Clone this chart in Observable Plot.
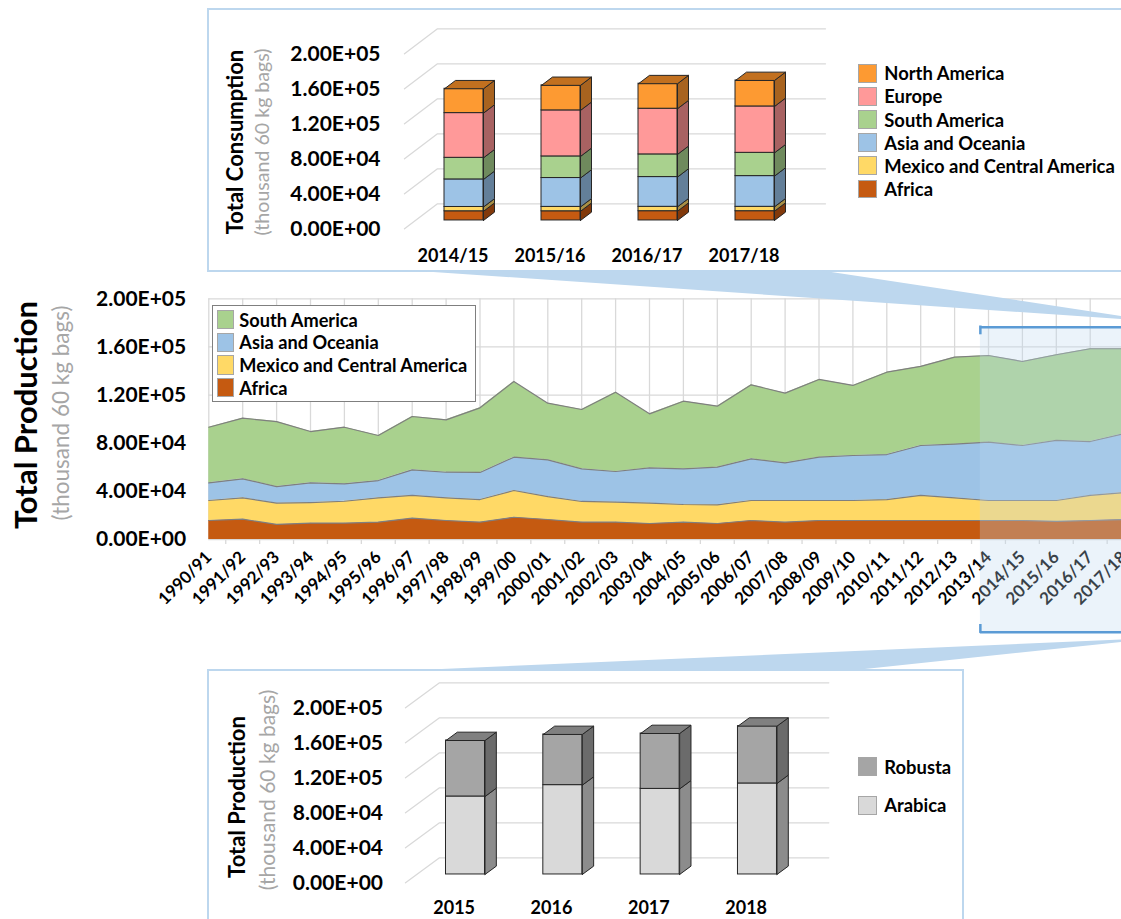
<!DOCTYPE html>
<html>
<head>
<meta charset="utf-8">
<script src="https://cdn.jsdelivr.net/npm/d3@7"></script>
<script src="https://cdn.jsdelivr.net/npm/@observablehq/plot@0.6"></script>
<style>
  body { margin: 0; background: #fff; }
  #page { position: relative; width: 1121px; height: 919px; overflow: hidden; font-family: Lato, "Open Sans", sans-serif; }
  .abs { position: absolute; }
  .panel { position: absolute; border: 2px solid #bdd7ee; box-sizing: border-box; background: #fff; }
  .rot { position: absolute; transform: translate(-50%, -50%) rotate(-90deg); white-space: nowrap; line-height: 1; }
  .title { font-weight: bold; color: #000; }
  .sub { color: #a6a6a6; }
  .sw { position: absolute; box-sizing: border-box; border: 1px solid #a6a6a6; }
  .lt { position: absolute; font-weight: bold; color: #000; white-space: nowrap; line-height: 1; transform: translateY(-50%); }
</style>
</head>
<body>
<div id="page">
  <div class="panel" style="left:207px;top:8px;width:960px;height:264px"></div>
  <div class="panel" style="left:207px;top:669px;width:757px;height:300px"></div>
  <div id="top" class="abs" style="left:0;top:0"></div>
  <div id="mid" class="abs" style="left:0;top:280px"></div>
  <div id="bot" class="abs" style="left:0;top:640px"></div>
  <div id="texts"></div>
  <svg class="abs" width="1121" height="919" style="left:0;top:0;pointer-events:none">
    <polygon points="404,270 818,270 1121,316 1121,319" fill="#bdd7ee"></polygon>
    <polygon points="430,669.5 1121,639.5 1121,642 860,669.5" fill="#bdd7ee"></polygon>
  </svg>
</div>
<script>
// ---------- Data: production by region (thousand 60 kg bags) ----------
const seasons = ["1990/91","1991/92","1992/93","1993/94","1994/95","1995/96","1996/97","1997/98","1998/99","1999/00",
  "2000/01","2001/02","2002/03","2003/04","2004/05","2005/06","2006/07","2007/08","2008/09","2009/10",
  "2010/11","2011/12","2012/13","2013/14","2014/15","2015/16","2016/17","2017/18"];
const africaProd   = [15800,16900,12500,13600,13600,14400,17700,15800,14400,18500,16600,14400,14400,13300,14400,13300,15800,14400,15800,15800,15800,15800,15800,15800,15800,15000,15800,16600];
const mexicoProd   = [16600,17700,17700,17100,18200,20200,18900,18800,18800,22200,19100,17200,16600,16900,14700,15500,16600,18000,16600,16600,17400,20800,18800,16600,16600,17400,20800,22400];
const asiaProd     = [14700,15800,13800,16400,14500,14400,21300,21300,22500,27700,30500,27100,25500,29300,29600,31300,34600,31300,36000,37400,37400,41500,44600,48500,45700,49900,44800,49000];
const southAmProd  = [46200,50400,54000,42600,47000,37400,44300,43500,53700,62900,47100,49300,65900,44900,56200,50700,61500,57900,64600,58200,68400,65700,72300,72000,69800,71200,77100,70500];
const prodRegions  = ["Africa","Mexico and Central America","Asia and Oceania","South America"];
const prodColors   = ["#c55a11","#ffd966","#9dc3e6","#a9d18e"];

// ---------- Data: consumption by region ----------
const consSeasons  = ["2014/15","2015/16","2016/17","2017/18"];
const consAfrica   = [10500,10500,10600,10600];
const consMexico   = [4900,5000,5000,5000];
const consAsia     = [31500,33000,34000,35100];
const consSouthAm  = [24700,24700,25900,26600];
const consEurope   = [51100,52600,52200,53000];
const consNorthAm  = [27800,28600,28600,29700];
const consRegions  = ["Africa","Mexico and Central America","Asia and Oceania","South America","Europe","North America"];
const consFront    = ["#c55a11","#ffd966","#9dc3e6","#a9d18e","#ff9999","#fd9a32"];
const consSide     = ["#82390b","#a88f45","#637f99","#6f8a5d","#a86262","#a8631f"];
const consTopFace  = "#c2701f";

// ---------- Data: production by species ----------
const prodYears    = ["2015","2016","2017","2018"];
const arabica      = [89100,102100,97800,104000];
const robusta      = [64000,57900,63300,65500];
const speciesNames = ["Arabica","Robusta"];
const speciesFront = ["#d9d9d9","#a5a5a5"];
const speciesSide  = ["#8c8c8c","#6b6b6b"];
const speciesTop   = "#808080";

const yTicks = [0,40000,80000,120000,160000,200000];
const fmtE = v => { const [m, e] = v.toExponential(2).split("e"); return m + "E" + e[0] + e.slice(1).padStart(2, "0"); };

const baseStyle = { background: "transparent", fontFamily: "Lato, 'Open Sans', sans-serif", fontWeight: "bold",
  overflow: "visible", maxWidth: "none", color: "#000" };

function setFont(svg, axis, size) {
  d3.select(svg).selectAll(`[aria-label^="${axis}-axis"] text`).style("font-size", size + "px").style("font-weight", "bold");
}

// ---------- 3D stacked column chart ----------
function chart3d(o) {
  const plotW = o.width - o.marginLeft - o.marginRight;
  const plotH = o.height - o.marginTop - o.marginBottom;
  const n = o.cats.length;
  const slot = plotW / n;
  const ux = o.depthPx[0] / slot;
  const uy = o.depthPx[1] * 200000 / plotH;
  const bw = o.barPx / slot;
  const d0 = 1 / 3, d1 = 2 / 3;
  const marks = [];
  const grid = [];
  yTicks.forEach(v => grid.push({t: v, x: -0.5, y: v}, {t: v, x: -0.5 + ux, y: v + uy}, {t: v, x: n - 0.5 + ux, y: v + uy}));
  marks.push(Plot.line(grid, {x: "x", y: "y", z: "t", stroke: "#d9d9d9", strokeWidth: 1.3}));
  const cum = o.cats.map(() => 0);
  o.series.forEach((s, si) => {
    const fronts = [], sides = [], tops = [];
    o.cats.forEach((c, ci) => {
      const v = o.values[si][ci];
      const b = cum[ci]; cum[ci] += v;
      const cx = ci + d0 * ux, oy = d0 * uy;
      const x1 = cx - bw / 2, x2 = cx + bw / 2, y1 = b + oy, y2 = b + v + oy;
      const ddx = (d1 - d0) * ux, ddy = (d1 - d0) * uy;
      fronts.push({x1, x2, y1, y2});
      [[x2, y1], [x2 + ddx, y1 + ddy], [x2 + ddx, y2 + ddy], [x2, y2], [x2, y1]].forEach(([x, y]) => sides.push({id: ci, x, y}));
      if (si === o.series.length - 1)
        [[x1, y2], [x2, y2], [x2 + ddx, y2 + ddy], [x1 + ddx, y2 + ddy], [x1, y2]].forEach(([x, y]) => tops.push({id: ci, x, y}));
    });
    marks.push(Plot.line(sides, {x: "x", y: "y", z: "id", fill: o.side[si], stroke: "#262626", strokeWidth: 1, strokeLinejoin: "round"}));
    marks.push(Plot.rect(fronts, {x1: "x1", x2: "x2", y1: "y1", y2: "y2", fill: o.front[si], stroke: "#262626", strokeWidth: 1}));
    if (tops.length) marks.push(Plot.line(tops, {x: "x", y: "y", z: "id", fill: o.topFace, stroke: "#262626", strokeWidth: 1, strokeLinejoin: "round"}));
  });
  const svg = Plot.plot({
    width: o.width, height: o.height,
    marginLeft: o.marginLeft, marginRight: o.marginRight, marginTop: o.marginTop, marginBottom: o.marginBottom,
    x: {type: "linear", domain: [-0.5, n - 0.5], ticks: d3.range(n), tickFormat: i => o.cats[i], tickSize: 0, tickPadding: o.padX, label: null},
    y: {domain: [0, 200000], ticks: yTicks, tickFormat: fmtE, tickSize: 0, tickPadding: o.padY, label: null},
    style: {...baseStyle, fontSize: "18px"},
    marks
  });
  setFont(svg, "x", 18);
  setFont(svg, "y", 21);
  return svg;
}

document.getElementById("top").append(chart3d({
  cats: consSeasons, series: consRegions,
  values: [consAfrica, consMexico, consAsia, consSouthAm, consEurope, consNorthAm],
  front: consFront, side: consSide, topFace: consTopFace,
  width: 1121, height: 271, marginLeft: 404, marginRight: 329, marginTop: 53.3, marginBottom: 42.7,
  depthPx: [33, 25], barPx: 39, padX: 20, padY: 24
}));

document.getElementById("bot").append(chart3d({
  cats: prodYears, series: speciesNames,
  values: [arabica, robusta],
  front: speciesFront, side: speciesSide, topFace: speciesTop,
  width: 1121, height: 279, marginLeft: 405, marginRight: 326.7, marginTop: 67.3, marginBottom: 36.7,
  depthPx: [34, 25], barPx: 39, padX: 18.5, padY: 22.5
}));

// ---------- Middle stacked area chart ----------
const prodSeries = [africaProd, mexicoProd, asiaProd, southAmProd];
const prodRows = seasons.flatMap((s, i) => prodRegions.map((r, k) => ({i, season: s, region: r, value: prodSeries[k][i]})));
const highlight = [{x1: 22.76, x2: 28, y1: 0, y2: 200000}];
const midSvg = Plot.plot({
  width: 1150, height: 360,
  marginLeft: 208.3, marginRight: 26.4, marginTop: 18.3, marginBottom: 101,
  x: {type: "linear", domain: [0, seasons.length - 1], ticks: d3.range(seasons.length), tickFormat: i => seasons[i],
      tickRotate: -45, tickSize: 0, tickPadding: 15, label: null},
  y: {domain: [0, 200000], ticks: yTicks, tickFormat: fmtE, tickSize: 0, tickPadding: 22.6, label: null},
  color: {domain: prodRegions, range: prodColors},
  style: {...baseStyle, fontSize: "17px"},
  marks: [
    Plot.ruleY(yTicks, {stroke: "#d9d9d9", strokeWidth: 1.3}),
    Plot.ruleX(d3.range(seasons.length), {stroke: "#d9d9d9", strokeWidth: 1.3}),
    Plot.ruleX(d3.range(seasons.length - 1).map(i => i + 0.5), {y1: 0, y2: 0, insetBottom: -5, stroke: "#d9d9d9", strokeWidth: 1.3}),
    Plot.areaY(prodRows, Plot.stackY({x: "i", y: "value", z: "region", fill: "region", order: prodRegions})),
    Plot.lineY(prodRows, Plot.stackY2({x: "i", y: "value", z: "region", order: prodRegions, stroke: "#7f7f7f", strokeWidth: 1.2})),
    Plot.rect(highlight, {x1: "x1", x2: "x2", y1: "y1", y2: "y2", insetTop: 28.4, insetBottom: -92.7, fill: "#bdd7ee", fillOpacity: 0.3}),
    Plot.ruleY(highlight, {y: "y2", x1: "x1", x2: "x2", dy: 28.4, stroke: "#5b9bd5", strokeWidth: 2.5}),
    Plot.ruleY(highlight, {y: "y1", x1: "x1", x2: "x2", dy: 92.7, stroke: "#5b9bd5", strokeWidth: 2.5}),
    Plot.ruleX(highlight, {x: "x1", y1: "y2", y2: "y2", insetTop: 27.2, insetBottom: -36, stroke: "#5b9bd5", strokeWidth: 2.5}),
    Plot.ruleX(highlight, {x: "x1", y1: "y1", y2: "y1", insetTop: 85, insetBottom: -93.9, stroke: "#5b9bd5", strokeWidth: 2.5})
  ]
});
setFont(midSvg, "x", 17);
setFont(midSvg, "y", 21);
document.getElementById("mid").append(midSvg);

// ---------- Titles and legends (HTML) ----------
const texts = document.getElementById("texts");
function rotText(cls, txt, cx, cy, size) {
  const d = document.createElement("div");
  d.className = "rot " + cls; d.textContent = txt;
  d.style.left = cx + "px"; d.style.top = cy + "px"; d.style.fontSize = size + "px";
  texts.append(d);
}
rotText("title", "Total Consumption", 235, 142, 22);
rotText("sub", "(thousand 60 kg bags)", 262, 142, 19.6);
rotText("title", "Total Production", 24.6, 415, 31);
rotText("sub", "(thousand 60 kg bags)", 61, 413, 22.5);
rotText("title", "Total Production", 237, 797, 22);
rotText("sub", "(thousand 60 kg bags)", 265.5, 790, 21);

function legend(names, colors, swX, top0, pitch, swW, swH, txX, size) {
  names.forEach((nm, k) => {
    const sw = document.createElement("div");
    sw.className = "sw";
    Object.assign(sw.style, {left: swX + "px", top: (top0 + k * pitch) + "px", width: swW + "px", height: swH + "px", background: colors[k]});
    texts.append(sw);
    const t = document.createElement("div");
    t.className = "lt"; t.textContent = nm;
    Object.assign(t.style, {left: txX + "px", top: (top0 + k * pitch + swH / 2) + "px", fontSize: size + "px"});
    texts.append(t);
  });
}
// top legend (reverse stacking order)
legend([...consRegions].reverse(), [...consFront].reverse(), 857.7, 64, 23.1, 19, 18.7, 884.3, 18.4);
// bottom legend
legend([...speciesNames].reverse(), [...speciesFront].reverse(), 857.7, 757.3, 38.7, 19, 18.7, 884.3, 18.4);
// middle legend box
const box = document.createElement("div");
Object.assign(box.style, {position: "absolute", left: "211.7px", top: "305px", width: "264.3px", height: "97.3px",
  border: "1px solid #7f7f7f", boxSizing: "border-box", background: "#fff"});
texts.append(box);
legend([...prodRegions].reverse(), [...prodColors].reverse(), 216.7, 310, 22.7, 17.6, 19.3, 239.3, 18.2);
</script>
</body>
</html>
